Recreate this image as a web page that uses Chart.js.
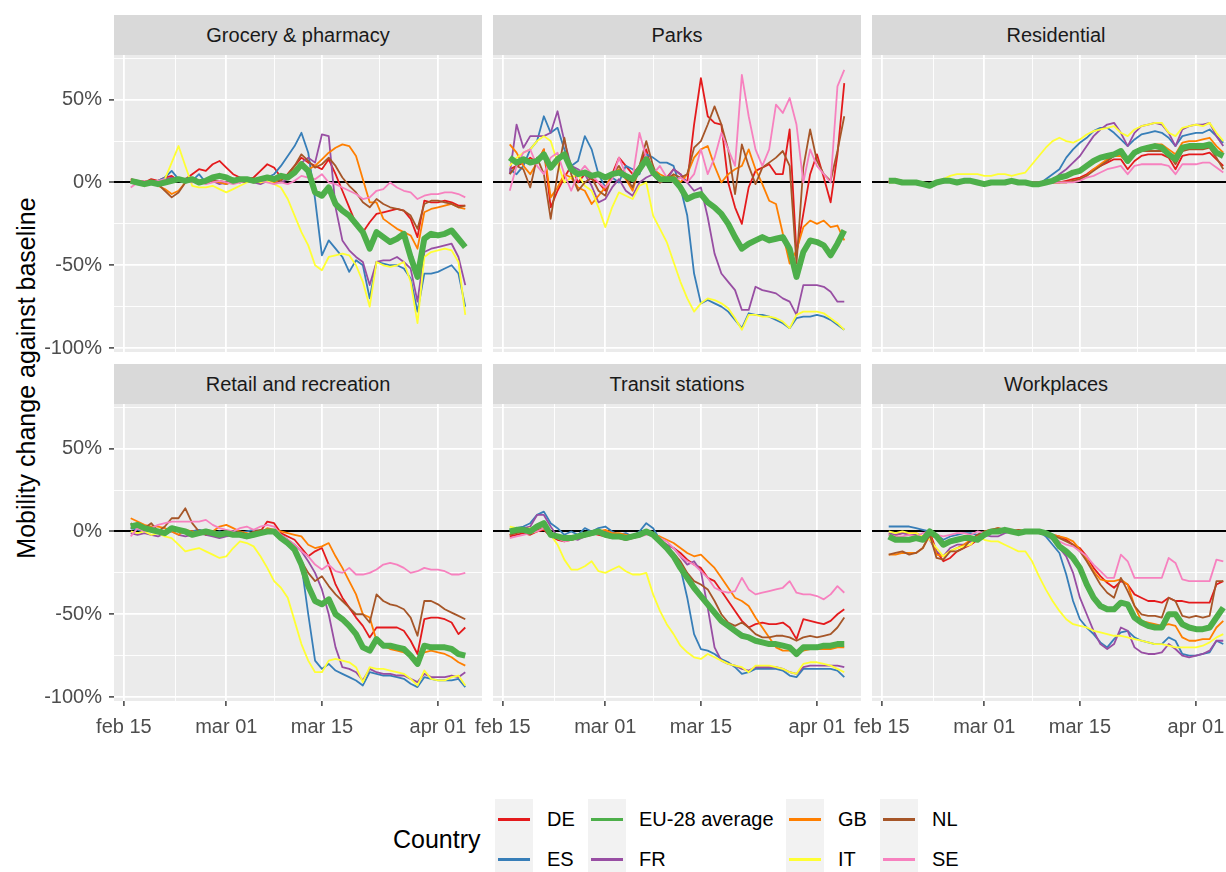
<!DOCTYPE html>
<html>
<head>
<meta charset="utf-8">
<script src="https://cdn.jsdelivr.net/npm/chart.js@4.4.1/dist/chart.umd.min.js"></script>
<style>
  html, body { margin: 0; padding: 0; background: #fff; }
  body { width: 1226px; height: 872px; overflow: hidden; position: relative;
         font-family: "Liberation Sans", Arial, sans-serif; }
  .strip { position: absolute; background: #d9d9d9; color: #1a1a1a; font-size: 20px;
           display: flex; align-items: center; justify-content: center; }
  canvas { position: absolute; }
  #ytitle { position: absolute; left: -224px; top: 363px; width: 500px; height: 30px;
            line-height: 30px; text-align: center; font-size: 25px; color: #000;
            transform: rotate(-90deg); }
  #legend-title { position: absolute; left: 393px; top: 824px; height: 30px; line-height: 30px;
                  font-size: 25px; color: #000; }
  .key { position: absolute; width: 38px; height: 40px; background: #f2f2f2; }
  .key span { position: absolute; left: 3px; top: 18.5px; width: 32px; height: 3px; }
  .key-label { position: absolute; height: 40px; line-height: 40px; font-size: 20px; color: #000; }
</style>
</head>
<body>
<div id="ytitle">Mobility change against baseline</div>
<div id="legend-title">Country</div>

<script>
// dates of the daily observations
const dates = [
  '2020-02-16','2020-02-17','2020-02-18','2020-02-19','2020-02-20','2020-02-21','2020-02-22',
  '2020-02-23','2020-02-24','2020-02-25','2020-02-26','2020-02-27','2020-02-28','2020-02-29',
  '2020-03-01','2020-03-02','2020-03-03','2020-03-04','2020-03-05','2020-03-06','2020-03-07',
  '2020-03-08','2020-03-09','2020-03-10','2020-03-11','2020-03-12','2020-03-13','2020-03-14',
  '2020-03-15','2020-03-16','2020-03-17','2020-03-18','2020-03-19','2020-03-20','2020-03-21',
  '2020-03-22','2020-03-23','2020-03-24','2020-03-25','2020-03-26','2020-03-27','2020-03-28',
  '2020-03-29','2020-03-30','2020-03-31','2020-04-01','2020-04-02','2020-04-03','2020-04-04',
  '2020-04-05'
];

const countryKeys = ['DE', 'ES', 'EU', 'FR', 'GB', 'IT', 'NL', 'SE'];
const countryLabels = ['DE', 'ES', 'EU-28 average', 'FR', 'GB', 'IT', 'NL', 'SE'];
const countryColors = ['#E41A1C', '#377EB8', '#4DAF4A', '#984EA3', '#FF7F00', '#FFFF33', '#A65628', '#F781BF'];

// tick labels
const xTickDays = [0, 15, 29, 46];
const xTickLabels = ['feb 15', 'mar 01', 'mar 15', 'apr 01'];
const xMinorDays = [7.5, 22, 37.5];
const yTickValues = [-100, -50, 0, 50];
const yMinorValues = [-75, -25, 25, 75];

// % change from baseline, one object per place category
const grocery = {
  DE: [2,1,0,2,1,3,4,1,2,5, 8,7,11,13,9,5,3,2,3,7, 11,9,3,5,10,15,12,10,8,14, 5,-5,-15,-25,-30,-24,-19,-18,-17,-16, -17,-22,-33,-11,-12,-12,-11,-12,-14,-14],
  ES: [0,1,-1,0,1,3,7,2,0,1, 5,0,1,0,-1,1,0,1,2,1, 3,5,10,16,22,30,18,-10,-44,-35, -40,-45,-54,-47,-50,-70,-48,-49,-50,-50, -52,-58,-78,-55,-55,-54,-52,-50,-55,-75],
  EU: [1,0,-1,0,-1,0,1,2,1,2, 0,1,3,4,3,1,2,2,1,2, 3,2,4,3,6,11,7,-6,-8,-3, -13,-17,-20,-25,-30,-40,-30,-33,-36,-34, -31,-45,-57,-34,-31,-32,-31,-29,-34,-39],
  FR: [0,-1,0,1,0,2,3,1,0,1, 0,2,1,-1,0,1,0,1,0,-1, 1,0,0,2,5,12,15,12,29,28, -15,-35,-41,-45,-48,-62,-48,-47,-47,-45, -48,-52,-72,-42,-40,-39,-38,-37,-45,-62],
  GB: [1,0,1,0,-2,-4,-7,-5,0,1, 0,0,1,0,-1,1,2,1,1,0, 1,0,2,4,8,12,8,10,14,18, 21,23,22,16,2,-12,-12,-22,-25,-28, -30,-32,-40,-18,-16,-15,-14,-13,-15,-16],
  IT: [0,-1,-2,-1,0,2,12,22,10,-2, -3,-3,-2,-4,-6,-4,-2,0,1,0, 1,-1,-3,-10,-20,-30,-38,-50,-53,-45, -44,-43,-44,-50,-60,-75,-48,-50,-51,-50, -48,-60,-85,-45,-42,-41,-40,-41,-48,-80],
  NL: [1,0,1,0,-1,-5,-9,-6,0,1, 0,0,1,1,0,1,2,1,0,1, 3,2,1,5,10,17,13,9,11,15, 10,3,-2,-6,-12,-15,-10,-13,-15,-16, -17,-20,-28,-13,-11,-11,-12,-13,-15,-14],
  SE: [-3,0,1,0,1,2,0,2,1,0, 1,-1,0,1,0,-1,0,1,0,1, 0,-1,0,-1,1,4,3,2,5,0, -1,-3,-5,-7,-10,-9,-5,-4,0,-3, -5,-6,-10,-8,-7,-7,-6,-6,-7,-9]
};

const parks = {
  DE: [8,10,12,15,12,20,-15,-5,3,10, 0,5,2,0,-5,5,15,10,5,10, 20,5,0,3,8,5,0,35,63,40, 36,35,0,-15,-25,-3,7,9,11,5, 5,32,-43,-19,5,17,3,-12,17,60],
  ES: [8,5,10,20,25,40,30,33,20,10, 13,28,20,5,-3,3,0,10,8,5, 17,15,12,12,10,-3,-20,-55,-73,-71, -73,-75,-78,-83,-88,-79,-80,-80,-81,-83, -85,-88,-82,-81,-81,-80,-81,-83,-86,-89],
  EU: [15,12,14,12,13,17,9,14,17,8, 5,6,4,5,3,5,6,4,2,8, 14,6,2,2,2,-3,-10,-8,-7,-12, -15,-19,-25,-33,-40,-37,-35,-33,-35,-34, -33,-40,-57,-42,-35,-36,-38,-44,-37,-29],
  FR: [5,35,21,28,28,28,30,43,25,10, 8,5,-2,-12,-10,-3,2,-5,-8,0, 3,5,0,2,8,5,0,-5,-3,-21, -43,-55,-60,-65,-77,-77,-63,-65,-66,-67, -70,-72,-80,-62,-62,-62,-63,-66,-72,-72],
  GB: [23,18,10,5,12,20,-9,-3,5,3, -3,-5,-13,-8,-3,5,8,2,-5,10, 15,8,5,3,4,0,5,15,20,22, 10,0,5,8,10,20,8,-1,-11,-13, -31,-49,-41,-27,-23,-25,-23,-27,-26,-35],
  IT: [10,15,18,20,25,28,25,12,0,3, 5,-2,-5,-15,-27,-15,-6,-8,-10,-2, 0,-20,-28,-36,-48,-60,-70,-78,-73,-70, -71,-73,-76,-82,-89,-80,-80,-81,-81,-82, -84,-88,-80,-78,-78,-78,-79,-82,-85,-89],
  NL: [5,10,8,-3,15,5,-22,5,27,5, -5,0,3,-5,-8,5,10,3,-3,10, 25,10,0,2,5,3,5,21,25,35, 46,35,20,-7,23,10,-1,9,12,15, 19,10,-49,9,32,13,5,1,19,40],
  SE: [-5,10,18,20,10,5,15,18,5,-5, 5,10,5,0,-3,2,15,5,3,30, 15,5,10,3,0,3,0,5,20,5, 15,30,20,10,65,40,20,10,20,47, 42,51,35,0,20,10,5,0,58,68]
};

const residential = {
  DE: [0,1,0,0,-1,-1,-1,0,0,1, 0,0,1,0,-1,0,0,0,0,0, -1,0,0,0,0,0,1,2,3,5, 8,10,12,14,14,8,13,16,17,17, 17,15,8,16,17,17,17,18,14,10],
  ES: [0,1,0,0,-1,-1,-2,0,0,1, 0,0,1,0,-1,0,0,0,1,0, 0,-1,-1,2,5,8,15,20,24,27, 31,33,33,30,26,22,26,29,30,31, 30,27,22,28,29,30,30,32,28,24],
  EU: [1,1,0,0,0,-1,-2,0,1,1, 0,1,1,0,-1,0,0,0,1,0, 0,-1,-1,0,1,3,4,6,7,10, 13,15,16,17,19,13,18,20,21,22, 21,17,14,21,22,22,22,23,18,16],
  FR: [0,1,0,0,-1,-1,-2,0,0,1, 0,0,1,0,-1,0,0,0,1,0, 0,-1,-1,0,1,5,8,12,16,22, 28,32,35,36,30,22,30,34,35,36, 35,30,22,32,34,35,35,36,28,22],
  GB: [1,2,1,0,0,-1,-1,0,0,1, 0,0,1,0,-1,0,0,0,0,0, 0,-1,-1,0,0,0,0,1,2,4, 8,11,14,16,16,12,17,20,22,23, 23,20,17,24,25,25,26,27,22,18],
  IT: [0,0,0,-1,-1,0,-1,1,2,4, 5,5,5,5,4,4,5,5,4,5, 6,11,16,21,25,27,25,24,26,29, 31,32,33,34,30,28,32,34,35,36, 36,30,28,33,34,35,34,36,30,25],
  NL: [0,1,0,0,-1,-1,-1,0,0,1, 0,0,1,0,-1,0,0,0,0,0, -1,0,0,0,0,0,0,1,2,4, 7,10,13,16,18,12,17,19,19,19, 19,17,11,19,20,20,20,21,15,8],
  SE: [0,1,0,0,-1,-1,-1,0,0,1, 0,0,1,0,-1,0,0,0,0,0, -1,0,0,0,0,0,0,0,1,3, 4,6,8,9,10,5,10,11,11,11, 11,10,5,11,11,11,12,12,9,6]
};

const retail = {
  DE: [2,3,1,0,-1,0,2,1,-1,0, 1,-1,0,-2,-1,-1,-2,-3,-2,0, 6,5,-1,-3,-5,-10,-15,-12,-10,-20, -32,-40,-46,-52,-57,-64,-58,-58,-58,-58, -60,-66,-74,-53,-52,-52,-53,-55,-62,-58],
  ES: [2,1,0,1,0,-1,1,0,-1,0, 1,0,-1,0,-1,0,-1,0,1,0, 1,0,-2,-5,-10,-20,-50,-78,-83,-80, -84,-86,-88,-90,-93,-85,-86,-87,-87,-88, -89,-92,-94,-88,-89,-90,-90,-90,-89,-94],
  EU: [3,4,2,1,0,-1,2,1,0,-2, -1,0,-1,-2,-1,-2,-2,-3,-2,-1, 0,0,-4,-7,-11,-20,-33,-42,-44,-41, -50,-53,-57,-62,-70,-72,-65,-69,-69,-70, -71,-75,-80,-69,-70,-70,-70,-71,-74,-75],
  FR: [-1,-2,-1,-2,-3,-1,0,-2,-3,-2, -1,-2,-3,-4,-3,-2,-3,-4,-3,-1, 0,0,-3,-5,-8,-12,-18,-25,-35,-50, -70,-82,-83,-85,-90,-83,-85,-86,-86,-87, -87,-89,-91,-86,-88,-88,-88,-87,-88,-85],
  GB: [8,6,4,3,3,2,0,-2,1,0, -1,1,0,3,4,2,0,-1,-2,-1, 2,1,0,-1,-2,-3,-8,-10,-9,-7, -15,-22,-30,-38,-50,-52,-66,-69,-71,-72, -73,-75,-77,-73,-72,-73,-74,-76,-79,-81],
  IT: [0,-1,0,-2,-1,-3,-4,-8,-12,-11, -10,-12,-14,-16,-15,-10,-6,-7,-9,-15, -22,-30,-34,-40,-54,-68,-78,-85,-85,-78, -77,-78,-79,-82,-91,-82,-83,-83,-84,-85, -86,-89,-93,-84,-89,-90,-90,-88,-87,-93],
  NL: [5,3,2,5,0,3,8,8,14,5, 0,-2,0,-1,-2,-1,0,-2,0,1, -1,0,-3,-6,-10,-18,-25,-30,-27,-33, -38,-42,-46,-50,-50,-55,-38,-42,-44,-45, -47,-52,-63,-42,-42,-44,-47,-49,-51,-53],
  SE: [-3,2,0,2,4,5,6,6,6,6, 6,7,4,2,1,0,2,3,1,3, 4,3,-2,-5,-8,-12,-15,-20,-23,-20, -24,-25,-22,-26,-26,-25,-23,-20,-19,-20, -22,-25,-24,-22,-23,-23,-24,-26,-26,-25]
};

const transit = {
  DE: [-3,-2,-1,-2,0,1,-3,-5,-6,-5, -4,-3,-1,-2,-3,-4,-4,-5,-4,-3, -1,-2,-5,-8,-10,-13,-17,-20,-22,-28, -30,-36,-42,-48,-54,-58,-56,-55,-56,-56, -55,-58,-65,-53,-54,-55,-56,-54,-50,-47],
  ES: [0,2,3,5,10,12,5,2,-2,0, -2,2,0,2,3,0,-2,-1,-3,0, 5,2,-5,-10,-15,-22,-40,-62,-71,-72, -74,-77,-79,-82,-86,-85,-83,-83,-83,-83, -84,-87,-88,-83,-83,-83,-83,-83,-84,-88],
  EU: [0,1,1,0,3,5,-2,-3,-4,-4, -3,-2,-1,0,-2,-3,-3,-4,-3,-2, 0,-2,-6,-10,-15,-22,-28,-34,-39,-44, -49,-54,-57,-60,-63,-64,-66,-67,-68,-68, -69,-70,-74,-70,-70,-70,-69,-69,-68,-68],
  FR: [0,1,2,3,10,10,3,-3,-5,-4, -5,-3,-2,-1,0,-1,-2,-3,-2,-2, 0,-1,-5,-8,-10,-15,-20,-18,-24,-46, -70,-78,-80,-81,-83,-84,-82,-82,-82,-82, -83,-85,-86,-82,-81,-81,-81,-81,-81,-82],
  GB: [-2,0,1,-1,0,2,-1,-4,-5,-5, -4,-3,-2,0,1,-1,-1,-2,-3,-1, 0,-2,-3,-5,-7,-10,-13,-15,-14,-18, -22,-28,-34,-40,-42,-45,-52,-58,-64,-70, -72,-72,-73,-72,-71,-71,-71,-71,-70,-70],
  IT: [3,2,1,2,1,2,-2,-8,-17,-23, -23,-21,-18,-24,-25,-23,-21,-24,-26,-26, -25,-38,-48,-56,-62,-69,-73,-76,-77,-74, -76,-78,-80,-81,-82,-85,-81,-81,-81,-82, -83,-85,-86,-80,-79,-79,-80,-81,-83,-85],
  NL: [-2,-1,0,-1,1,2,-2,-4,-5,-4, -3,-2,-1,-1,-2,-3,-3,-4,-3,-2, 0,-1,-4,-10,-13,-18,-25,-30,-32,-35, -42,-50,-55,-57,-55,-58,-62,-64,-64,-63, -63,-64,-66,-64,-63,-64,-63,-62,-58,-52],
  SE: [-4,-3,-2,-1,0,2,-2,-4,-6,-5, -4,-3,-2,-1,-2,-3,-4,-5,-4,-3, -2,-1,-4,-6,-10,-15,-18,-20,-24,-28, -34,-36,-37,-36,-28,-35,-38,-37,-36,-35, -34,-30,-37,-38,-38,-39,-41,-38,-33,-37]
};

const workplaces = {
  DE: [-2,-2,-1,-1,-1,-3,0,-12,-18,-16, -12,-10,-8,-5,-1,0,1,1,0,0, 0,0,0,-1,-2,-3,-5,-8,-10,-15, -22,-27,-31,-34,-30,-32,-38,-40,-42,-42, -43,-40,-42,-42,-43,-43,-43,-43,-32,-30],
  ES: [3,3,3,3,2,1,0,-2,-5,-3, -2,-1,-1,-2,0,0,1,1,1,0, 0,1,0,-3,-8,-13,-26,-42,-53,-58, -62,-67,-70,-65,-61,-60,-64,-66,-67,-68, -68,-64,-66,-74,-75,-75,-74,-73,-66,-68],
  EU: [-3,-5,-5,-5,-4,-5,0,-3,-8,-6, -5,-4,-4,-5,-2,0,0,1,0,-1, 0,0,0,-1,-3,-9,-12,-16,-22,-32, -40,-45,-47,-47,-43,-44,-52,-55,-57,-58, -58,-50,-50,-56,-58,-59,-59,-58,-52,-46],
  FR: [-1,-2,-1,-2,-2,-3,-5,-12,-15,-10, -8,-8,-6,-2,-2,-3,-3,-1,0,0, 0,0,0,-2,-5,-10,-15,-25,-40,-50, -60,-68,-71,-68,-58,-60,-70,-73,-74,-74, -73,-68,-71,-75,-76,-75,-74,-72,-66,-66],
  GB: [-14,-14,-13,-13,-13,-10,-2,-14,-15,-12, -10,-8,-5,-3,0,1,2,1,0,1, 0,0,0,-1,-2,-3,-4,-6,-11,-17, -24,-29,-30,-30,-29,-32,-45,-54,-55,-56, -57,-56,-57,-64,-66,-66,-65,-65,-58,-54],
  IT: [0,-1,0,-1,-1,-3,-5,-10,-15,-12, -10,-9,-8,-3,-5,-6,-6,-8,-10,-12, -12,-18,-27,-35,-42,-48,-53,-56,-57,-58, -60,-61,-62,-63,-63,-64,-65,-66,-67,-68, -68,-69,-70,-70,-70,-70,-69,-67,-64,-62],
  NL: [-14,-13,-12,-14,-13,-10,-2,-16,-17,-12, -12,-10,-5,-2,0,1,2,1,0,1, 0,0,0,-1,-2,-4,-6,-8,-12,-18, -25,-32,-37,-40,-28,-36,-45,-50,-51,-51, -52,-40,-42,-51,-52,-51,-52,-51,-30,-30],
  SE: [-2,-3,-3,-2,-3,-1,0,-2,-3,-2, -1,-1,-2,0,-1,0,0,1,0,0, 0,0,-1,-2,-4,-6,-8,-9,-12,-15, -20,-24,-28,-28,-14,-18,-28,-28,-28,-28, -28,-16,-19,-29,-30,-30,-30,-30,-17,-18]
};

const panels = [
  { title: 'Grocery & pharmacy', values: grocery },
  { title: 'Parks', values: parks },
  { title: 'Residential', values: residential },
  { title: 'Retail and recreation', values: retail },
  { title: 'Transit stations', values: transit },
  { title: 'Workplaces', values: workplaces }
];

// layout of the facet grid (pixels)
const PLOT_LEFT = [114, 493, 872];
const PLOT_TOP = [55, 404];
const PLOT_W = 368, PLOT_H = 297, STRIP_H = 40;
const X_AXIS_H = 45;      // bottom row, with date labels
const X_SPACER_H = 14;    // top row, room for the -100% label

const baseDay = Date.UTC(2020, 1, 15);
const dayIndex = dates.map(d => (Date.parse(d + 'T00:00:00Z') - baseDay) / 86400000);
const xMin = -1.45, xMax = 52.45;
const yMin = -102.4, yMax = 77;

const fontFamily = '"Liberation Sans", Arial, sans-serif';
Chart.defaults.font.family = fontFamily;

const panelBg = {
  id: 'panelBg',
  beforeDraw(chart) {
    const a = chart.chartArea;
    const ctx = chart.ctx;
    ctx.save();
    ctx.fillStyle = '#ebebeb';
    ctx.fillRect(a.left, a.top, a.right - a.left, a.bottom - a.top);
    ctx.restore();
  }
};

function zeroPadding(scale) {
  scale.paddingLeft = 0; scale.paddingRight = 0;
  scale.paddingTop = 0; scale.paddingBottom = 0;
}

panels.forEach((p, i) => {
  const r = Math.floor(i / 3), c = i % 3;
  const showY = c === 0, showX = r === 1;

  const strip = document.createElement('div');
  strip.className = 'strip';
  strip.style.left = PLOT_LEFT[c] + 'px';
  strip.style.top = (PLOT_TOP[r] - STRIP_H) + 'px';
  strip.style.width = PLOT_W + 'px';
  strip.style.height = STRIP_H + 'px';
  strip.textContent = p.title;
  document.body.appendChild(strip);

  const yAxisW = showY ? PLOT_LEFT[0] : 40;
  const xAxisH = showX ? X_AXIS_H : X_SPACER_H;
  const canvas = document.createElement('canvas');
  canvas.width = yAxisW + PLOT_W;
  canvas.height = PLOT_H + xAxisH;
  canvas.style.left = (PLOT_LEFT[c] - yAxisW) + 'px';
  canvas.style.top = PLOT_TOP[r] + 'px';
  document.body.appendChild(canvas);

  const datasets = countryKeys.map((k, j) => ({
    label: countryLabels[j],
    data: dayIndex.map((d, n) => ({ x: d, y: p.values[k][n] })),
    borderColor: countryColors[j],
    borderWidth: k === 'EU' ? 6 : 1.8,
    pointRadius: 0,
    tension: 0,
    borderJoinStyle: 'round',
    order: k === 'EU' ? 0 : 10 - j
  }));

  new Chart(canvas, {
    type: 'line',
    data: { datasets },
    options: {
      responsive: false,
      animation: false,
      devicePixelRatio: 1,
      layout: { padding: 0 },
      plugins: { legend: { display: false }, tooltip: { enabled: false } },
      scales: {
        x: {
          type: 'linear',
          min: xMin, max: xMax,
          border: { display: false },
          afterBuildTicks: s => { s.ticks = xTickDays.concat(xMinorDays).sort((a, b) => a - b).map(v => ({ value: v })); },
          afterFit: s => { s.height = xAxisH; zeroPadding(s); },
          grid: {
            color: '#ffffff',
            lineWidth: ctx => xTickDays.includes(ctx.tick.value) ? 1.8 : 0.9,
            drawTicks: showX,
            tickLength: 5,
            tickWidth: 1.4,
            tickColor: ctx => xTickDays.includes(ctx.tick.value) ? '#333333' : 'rgba(0,0,0,0)'
          },
          ticks: {
            display: showX,
            autoSkip: false,
            maxRotation: 0,
            padding: 9,
            color: '#4d4d4d',
            font: { size: 20 },
            callback: v => { const n = xTickDays.indexOf(v); return n >= 0 ? xTickLabels[n] : ''; }
          }
        },
        y: {
          type: 'linear',
          min: yMin, max: yMax,
          border: { display: false },
          afterBuildTicks: s => { s.ticks = yTickValues.concat(yMinorValues).sort((a, b) => a - b).map(v => ({ value: v })); },
          afterFit: s => { s.width = yAxisW; zeroPadding(s); },
          grid: {
            color: ctx => ctx.tick.value === 0 ? '#000000' : '#ffffff',
            lineWidth: ctx => ctx.tick.value === 0 ? 2 : (yTickValues.includes(ctx.tick.value) ? 1.8 : 0.9),
            drawTicks: showY,
            tickLength: 5,
            tickWidth: 1.4,
            tickColor: ctx => yTickValues.includes(ctx.tick.value) ? '#333333' : 'rgba(0,0,0,0)'
          },
          ticks: {
            display: showY,
            autoSkip: false,
            padding: 7,
            color: '#4d4d4d',
            font: { size: 20 },
            callback: v => yTickValues.includes(v) ? v + '%' : ''
          }
        }
      }
    },
    plugins: [panelBg]
  });
});

// legend: four columns, two rows, filled column by column
const legendCols = [[495, 547], [588, 639], [786, 838], [880, 932]];
const legendRows = [799, 839];
countryLabels.forEach((label, j) => {
  const col = Math.floor(j / 2), row = j % 2;
  const key = document.createElement('div');
  key.className = 'key';
  key.style.left = legendCols[col][0] + 'px';
  key.style.top = legendRows[row] + 'px';
  const line = document.createElement('span');
  line.style.background = countryColors[j];
  key.appendChild(line);
  document.body.appendChild(key);

  const txt = document.createElement('div');
  txt.className = 'key-label';
  txt.style.left = legendCols[col][1] + 'px';
  txt.style.top = legendRows[row] + 'px';
  txt.textContent = label;
  document.body.appendChild(txt);
});
</script>
</body>
</html>
